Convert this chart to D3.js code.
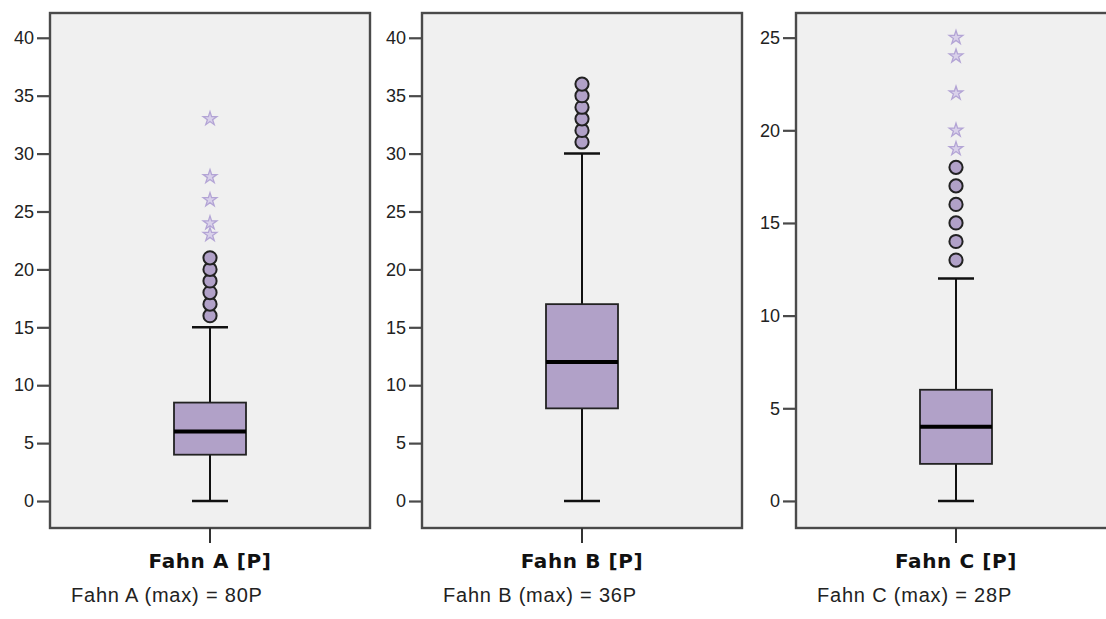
<!DOCTYPE html>
<html><head><meta charset="utf-8">
<script src="https://cdn.jsdelivr.net/npm/d3@7"></script>
<style>html,body{margin:0;padding:0;background:#fff;}svg{display:block;}</style>
</head><body>
<svg id="chart" width="1106" height="619"></svg>
<script>
// ---- data ----
const categories = ["Fahn A [P]", "Fahn B [P]", "Fahn C [P]"];
const maxLabels = ["Fahn A (max) = 80P", "Fahn B (max) = 36P", "Fahn C (max) = 28P"];
const whiskerLow = [0, 0, 0];
const q1 = [4, 8, 2];
const medians = [6, 12, 4];
const q3 = [8.5, 17, 6];
const whiskerHigh = [15, 30, 12];
const outliersA = [16, 17, 18, 19, 20, 21];
const outliersB = [31, 32, 33, 34, 35, 36];
const outliersC = [13, 14, 15, 16, 17, 18];
const extremesA = [23, 24, 26, 28, 33];
const extremesB = [];
const extremesC = [19, 20, 22, 24, 25];
const ticksAB = [0, 5, 10, 15, 20, 25, 30, 35, 40];
const ticksC = [0, 5, 10, 15, 20, 25];
const yDomains = [[-2.33, 42.14], [-2.33, 42.14], [-1.46, 26.33]];

const outliers = [outliersA, outliersB, outliersC];
const extremes = [extremesA, extremesB, extremesC];
const tickSets = [ticksAB, ticksAB, ticksC];

// ---- layout ----
const svg = d3.select("#chart");
const panelLeft = [50, 422, 796];
const panelW = 320, plotTop = 13, plotBottom = 528;
const boxW = 72, capW = 36;
const frameColor = "#4a4a4a";
const bg = "#f0f0f0";
const boxFill = "#b1a1c8";
const starColor = "#b3a4d5";

categories.forEach((cat, i) => {
  const g = svg.append("g");
  const x = d3.scaleBand().domain([cat]).range([panelLeft[i], panelLeft[i] + panelW]);
  const y = d3.scaleLinear().domain(yDomains[i]).range([plotBottom, plotTop]);
  const cx = x(cat) + x.bandwidth() / 2;

  g.append("rect").attr("x", panelLeft[i]).attr("y", plotTop)
    .attr("width", panelW).attr("height", plotBottom - plotTop)
    .attr("fill", bg).attr("stroke", frameColor).attr("stroke-width", 2.4);

  // y axis
  const ya = d3.axisLeft(y).tickValues(tickSets[i]).tickSize(13).tickPadding(3).tickFormat(d3.format("d"));
  const yg = g.append("g").attr("transform", `translate(${panelLeft[i]},0)`).call(ya);
  yg.select(".domain").remove();
  yg.selectAll(".tick line").attr("stroke", frameColor).attr("stroke-width", 2.2);
  yg.selectAll(".tick text").attr("fill", "#222").style("font-family", "'Liberation Sans', Arial, sans-serif").style("font-size", "18px");

  // x axis
  const xa = d3.axisBottom(x).tickSize(15).tickFormat("");
  const xg = g.append("g").attr("transform", `translate(0,${plotBottom})`).call(xa);
  xg.select(".domain").remove();
  xg.selectAll(".tick line").attr("stroke", "#333").attr("stroke-width", 2);

  // whiskers
  g.append("line").attr("x1", cx).attr("x2", cx).attr("y1", y(whiskerLow[i])).attr("y2", y(whiskerHigh[i]))
    .attr("stroke", "#111").attr("stroke-width", 2);
  [whiskerLow[i], whiskerHigh[i]].forEach(v => {
    g.append("line").attr("x1", cx - capW / 2).attr("x2", cx + capW / 2).attr("y1", y(v)).attr("y2", y(v))
      .attr("stroke", "#111").attr("stroke-width", 2.5);
  });
  // box
  g.append("rect").attr("x", cx - boxW / 2).attr("y", y(q3[i])).attr("width", boxW)
    .attr("height", y(q1[i]) - y(q3[i])).attr("fill", boxFill).attr("stroke", "#222").attr("stroke-width", 1.8);
  g.append("line").attr("x1", cx - boxW / 2).attr("x2", cx + boxW / 2).attr("y1", y(medians[i])).attr("y2", y(medians[i]))
    .attr("stroke", "#000").attr("stroke-width", 4);

  // outliers
  g.selectAll("circle.o").data(outliers[i]).enter().append("circle")
    .attr("cx", cx).attr("cy", d => y(d)).attr("r", 6.6)
    .attr("fill", boxFill).attr("stroke", "#222").attr("stroke-width", 2);
  // extremes
  const star = d3.symbol().type(d3.symbolStar).size(58);
  g.selectAll("path.e").data(extremes[i]).enter().append("path")
    .attr("d", star).attr("transform", d => `translate(${cx},${y(d)})`)
    .attr("fill", "#d9d1ea").attr("stroke", starColor).attr("stroke-width", 1.3);

  // labels
  g.append("text").attr("x", cx).attr("y", 568).attr("text-anchor", "middle")
    .style("font-family", "'DejaVu Sans', Verdana, sans-serif").style("font-weight", "bold")
    .style("font-size", "20px").style("letter-spacing", "0.6px").attr("fill", "#111").text(cat);
  g.append("text").attr("x", panelLeft[i] + 21).attr("y", 602).attr("text-anchor", "start")
    .style("font-family", "'Liberation Sans', Arial, sans-serif")
    .style("font-size", "20px").style("letter-spacing", "0.8px").attr("fill", "#222").text(maxLabels[i]);
});
</script>
</body></html>
